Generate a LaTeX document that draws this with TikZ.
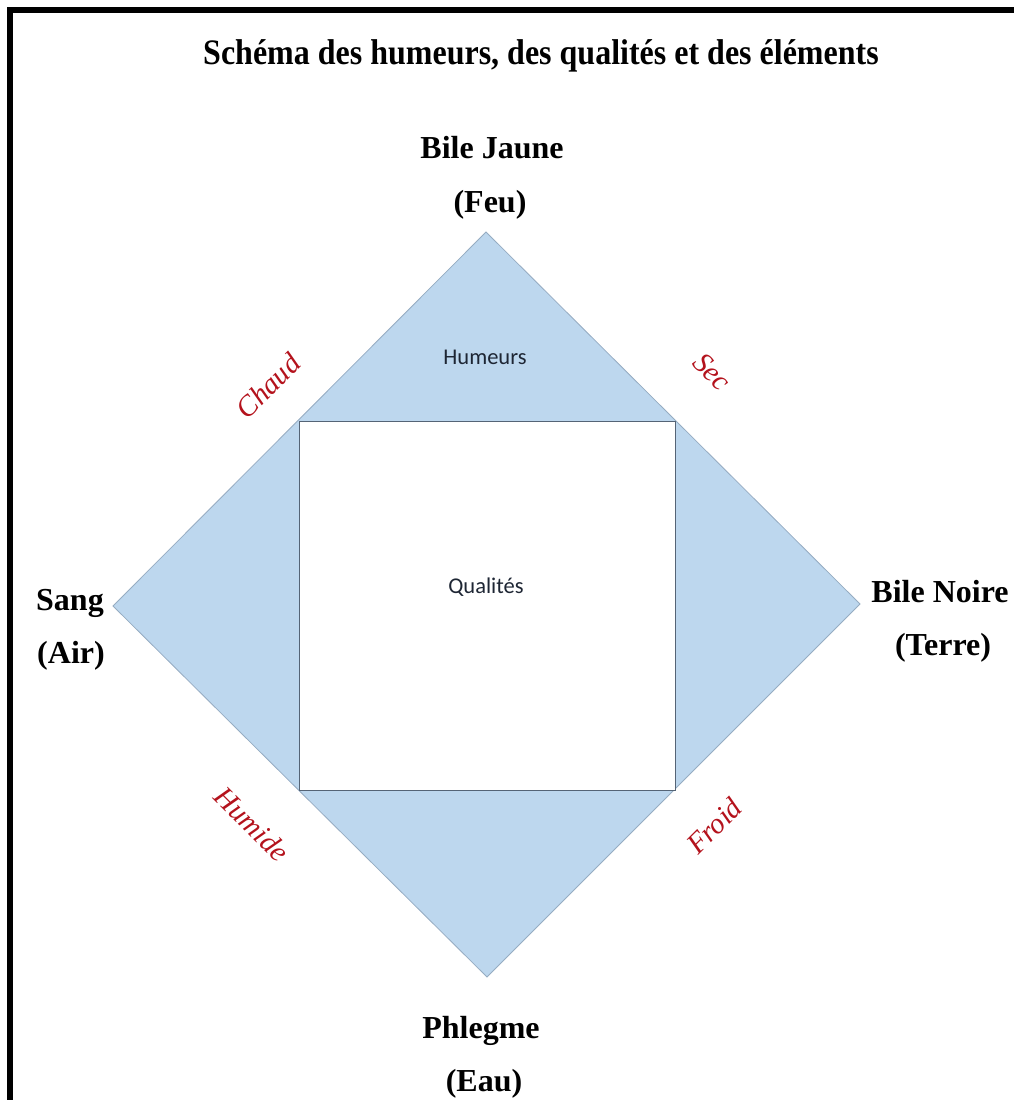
\documentclass[tikz,border=0pt]{standalone}
\usepackage{fontspec}
\setmainfont{Liberation Serif}
\newfontfamily\calfont{Carlito}
\definecolor{bluefill}{RGB}{189,215,238}
\definecolor{bluedge}{RGB}{150,172,194}
\definecolor{sqedge}{RGB}{85,100,118}
\definecolor{qualred}{RGB}{180,18,28}
\definecolor{darktext}{RGB}{30,38,52}
\tikzset{
  heading/.style={inner sep=0pt, anchor=base, font=\fontsize{32}{38}\selectfont\bfseries},
  quality/.style={inner sep=0pt, text=qualred, font=\fontsize{29}{34}\selectfont\itshape},
  inlabel/.style={inner sep=0pt, text=darktext, font=\calfont\fontsize{22.5}{27}\selectfont},
}
\begin{document}
\begin{tikzpicture}[x=1pt,y=-1pt]
\useasboundingbox (0,0) rectangle (1014,1100);
\fill[white] (0,0) rectangle (1014,1100);
% frame (top and left edges)
\draw[line width=6pt, line join=miter] (10,1105) -- (10,10) -- (1020,10);
% title
\node[heading, yscale=1.12] (title) at (541,64) {Schéma des humeurs, des qualités et des éléments};
% diamond
\coordinate (T) at (486,232);
\coordinate (R) at (860,604);
\coordinate (B) at (487,977);
\coordinate (L) at (113,606);
\fill[bluefill, draw=bluedge, line width=0.8pt] (T) -- (R) -- (B) -- (L) -- cycle;
% inner square
\coordinate (TL) at (299,421);
\coordinate (BR) at (675,790);
\draw[fill=white, draw=sqedge, line width=1pt] (TL) rectangle (BR);
% inner labels
\node[inlabel] (hum) at (485,357) {Humeurs};
\node[inlabel] (qual) at (486,587) {Qualités};
% humours / elements
\node[heading] (bj) at (492,158) {Bile Jaune};
\node[heading] (feu) at (490,212) {(Feu)};
\node[heading] (bn) at (940,602) {Bile Noire};
\node[heading] (terre) at (943,655) {(Terre)};
\node[heading] (sang) at (70,610) {Sang};
\node[heading] (air) at (71,663) {(Air)};
\node[heading] (phl) at (481,1038) {Phlegme};
\node[heading] (eau) at (484,1091) {(Eau)};
% qualities
\node[quality, rotate=45] (chaud) at (268,386) {Chaud};
\node[quality, rotate=-45] (sec) at (712,372) {Sec};
\node[quality, rotate=-45] (humide) at (252,824) {Humide};
\node[quality, rotate=45] (froid) at (714,826) {Froid};
\end{tikzpicture}
\end{document}
